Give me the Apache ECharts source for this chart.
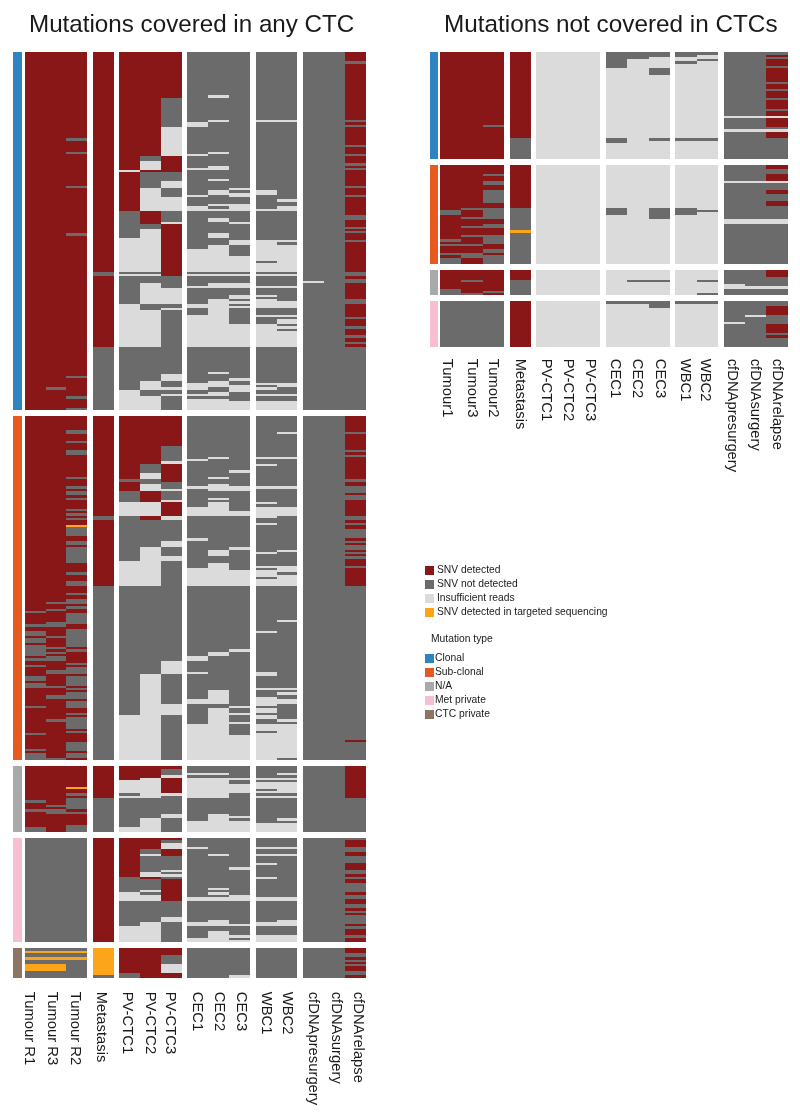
<!DOCTYPE html>
<html><head><meta charset="utf-8">
<style>html,body{margin:0;padding:0;background:#fff}#c{width:800px;height:1120px}</style>
<script src="https://cdn.jsdelivr.net/npm/echarts@6/dist/echarts.min.js"></script>
</head><body><div id="c"></div>
<script>
// Tick labels
const leftColumns = ['Tumour R1','Tumour R3','Tumour R2','Metastasis','PV-CTC1','PV-CTC2','PV-CTC3','CEC1','CEC2','CEC3','WBC1','WBC2','cfDNApresurgery','cfDNAsurgery','cfDNArelapse'];
const rightColumns = ['Tumour1','Tumour3','Tumour2','Metastasis','PV-CTC1','PV-CTC2','PV-CTC3','CEC1','CEC2','CEC3','WBC1','WBC2','cfDNApresurgery','cfDNAsurgery','cfDNArelapse'];
const stateNames = ['SNV detected','SNV not detected','Insufficient reads','SNV detected in targeted sequencing'];
const typeNames = ['Clonal','Sub-clonal','N/A','Met private','CTC private'];

// Each panel: one run-length string per column, top to bottom, in mutation rows.
// D detected, N not detected, I insufficient reads, T detected in targeted sequencing.
const leftClonal = [
'D158','D148 N1 D9','D38 N1 D5 N1 D14 N1 D20 N1 D62 N1 D8 N1 D4 N1',
'D97 N2 D31 N28',
'D52 I1 D17 N12 I15 N1 I1 N12 I19 N19 I9',
'D46 N2 I4 D1 N7 I10 D6 N2 I19 N1 I1 N3 I9 N3 I16 N15 I4 N3 I6',
'D20 N13 I13 D7 N4 I3 N4 I6 N5 I1 D23 N5 I7 N2 I1 N28 I3 N3 I1 N2 I1 N6',
'N31 I2 N12 I1 N5 I1 N11 I1 N4 I2 N17 I10 N1 I1 N4 I1 N7 I2 N3 I14 N16 I3 N2 I1 N1 I5',
'N19 I1 N10 I1 N13 I1 N5 I2 N4 I1 N4 I2 N4 I1 N1 I1 N3 I2 N5 I2 N3 I12 N1 I1 N3 I2 N5 I21 N11 I1 N3 I3 N2 I2 N1 I5',
'N60 I1 N1 I2 N3 I3 N5 I1 N7 I2 N5 I7 N1 I1 N3 I2 N3 I2 N1 I1 N1 I1 N7 I10 N14 I1 N2 I3 N4 I4',
'N30 I1 N30 I2 N6 I1 N13 I9 N1 I4 N1 I1 N4 I1 N3 I1 N1 I4 N3 I1 N3 I10 N16 I1 N1 I1 N2 I1 N2 I4',
'N30 I1 N34 I1 N2 I2 N13 I1 N1 I12 N1 I1 N4 I1 N6 I3 N3 I1 N1 I2 N1 I1 N1 I7 N16 I2 N3 I1 N2 I4',
'N101 I1 N56','N158',
'D4 N1 D25 N1 D1 N1 D8 N1 D3 N1 D3 N1 D1 N1 D7 N1 D3 N1 D8 N2 D3 N1 D1 N1 D3 N1 D13 N2 D1 N2 D7 N2 D6 N1 D3 N1 D3 N1 D2 N1 D1 N28'
];
const leftSubclonal = [
'D86 N1 D5 N1 D2 N2 D1 N2 D1 N5 D1 N1 D2 N1 D4 N2 D1 N2 D8 N1 D11 N1 D6 N1 D1 N3',
'D82 N1 D2 N1 D5 N2 D4 N1 D4 N1 D1 N1 D1 N2 D4 N2 D5 N1 D3 N2 D9 N1 D16 N1',
'D6 N2 D3 N1 D3 N2 D10 N1 D3 N1 D1 N2 D1 N1 D4 N1 D1 N1 D1 N1 D2 T1 N4 D2 N2 D1 N7 D4 N1 D3 N2 D3 N1 D2 N2 D1 N1 D2 N5 D2 N8 D1 N1 D5 N1 D1 N3 D1 N4 D1 N1 D1 N3 D1 N3 D2 N1 D1 N5 D1 N1 D4 N4 D1 N2 D1',
'D44 N2 D29 N77',
'D28 N1 D4 N5 I6 N20 I11 N57 I20',
'D21 N4 I3 N2 I3 D5 I6 D2 N12 I17 N39 I38',
'D13 N7 I1 D8 N3 I1 N4 I1 D6 I2 N9 I3 N4 I2 N44 I6 N13 I5 N20',
'N19 I1 N11 I1 N8 I4 N10 I1 N12 I8 N31 I2 N5 I1 N11 I2 N9 I16',
'N18 I1 N8 I1 N2 I3 N3 I1 N1 I6 N15 I3 N3 I10 N29 I2 N15 I6 N2 I23',
'N24 I1 N6 I2 N9 I2 N14 I1 N9 I7 N28 I1 N24 I1 N2 I1 N3 I1 N5 I11',
'N18 I1 N2 I1 N9 I1 N6 I1 N1 I5 N2 I1 N12 I1 N5 I1 N1 I3 N1 I3 N20 I1 N17 I2 N5 I1 N3 I4 N1 I2 N1 I2 N2 I3 N1 I12',
'N7 I1 N10 I1 N12 I1 N8 I4 N15 I1 N6 I3 N1 I5 N15 I1 N29 I1 N1 I1 N2 I2 N7 I1 N1 I15 N1',
'N152','N152',
'D7 N1 D7 N1 D1 N1 D10 N1 D2 N3 D1 N2 D7 N2 D1 N1 D2 N4 D1 N1 D1 N2 D1 N1 D1 N1 D3 N1 D8 N68 D1 N8'
];
const leftNA = [
'D15 N1 D3 N1 D7 N2','D17 N1 D1 N2 D8','D9 T1 D2 N1 D1 N5 D1 N1 D5 N3',
'D14 N15',
'D6 I6 N1 I1 N13 I2','D5 I9 N9 I6','D1 N3 I1 D7 I1 N8 I2 N6',
'N3 I1 N1 I9 N10 I5','N3 I1 N1 I9 N7 I8','N5 I1 N2 I4 N10 I1 N1 I5',
'N5 I1 N1 I3 N1 I1 N1 I1 N11 I4','N3 I1 N1 I1 N1 I5 N1 I1 N9 I1 N1 I4',
'N29','N29','D14 N15'
];
const leftMetPrivate = [
'N46','N46','N46','D46',
'D17 N7 I4 N11 I7','D5 N2 I1 N7 I2 D1 N5 I1 N1 I3 N9 I9','D1 N1 I3 D3 N6 I1 N1 I1 N1 D10 N7 I2 N9',
'N4 I1 N21 I2 N9 I2 N5 I2','N7 I1 N14 I1 N1 I1 N1 I2 N8 I3 N2 I5','N13 I1 N11 I3 N10 I1 N4 I1 N1 I1',
'N4 I1 N2 I1 N3 I1 N5 I1 N8 I2 N9 I2 N4 I3','N4 I1 N2 I1 N18 I2 N8 I3 N4 I3',
'N46','N46','N1 D3 N2 D2 N3 D3 N2 D1 N1 D2 N4 D1 N2 D2 N2 D1 N1 D1 N4 D1 N1 D3 N1 D2'
];
const leftCtcPrivate = [
'N1 T1 N2 T1 N2 T3 N3','N1 T1 N2 T1 N2 T3 N3','N1 T1 N2 T1 N8','T12 N1',
'D11 N2','D13','D3 N4 I4 D2','N13','N13','N12 I1','N13','N13','N13','N13',
'D2 N2 D1 N1 D1 N1 D2 N2 D1'
];
const rightClonal = [
'D47','D47','D32 N1 D14','D38 N9','I47','I47','I47',
'N7 I31 N2 I7','N3 I44','N2 I5 N3 I28 N1 I8',
'N2 I2 N1 I33 N1 I8','N1 I2 N1 I34 N1 I8',
'N28 I1 N5 I1 N12','N28 I1 N5 I1 N12',
'N1 D1 N1 D3 N1 D6 N1 D2 N1 D3 N1 D4 N1 D2 I1 D4 N1 I1 D3 N9'
];
const rightSubclonal = [
'D20 N2 D11 N1 D1 N1 D3 N1 D1 N3','D19 N1 D3 N1 D3 N1 D3 N1 D3 N1 D3 N2 D3',
'D4 N1 D2 N2 D2 N6 D2 N5 D2 N2 D3 N4 D2 N2 D1 N4',
'D19 N10 T1 N14','I44','I44','I44',
'I19 N3 I22','I44','I19 N5 I20','I19 N3 I22','I20 N1 I23',
'N7 I1 N16 I2 N18','N7 I1 N16 I2 N18','D2 N2 D3 I1 N3 D2 N3 D2 N6 I2 N18'
];
const rightNA = [
'D8 N3','D4 N1 D5 N1','D9 N1 D1','D4 N7','I11','I11','I11',
'I11','I4 N1 I6','I4 N1 I6','I11','I4 N1 I5 N1',
'N6 I2 N3','N7 I1 N3','D3 N4 I1 N3'
];
const rightMetPrivate = [
'N20','N20','N20','D20','I20','I20','I20',
'N1 I19','N1 I19','N3 I17','N1 I19','N1 I19',
'N9 I1 N10','N6 I1 N13','N2 D4 N4 D4 N1 D1 N4'
];

// Styling and layout, kept apart from the data
const stateColors = {D:'#8a1717',N:'#6b6b6b',I:'#dcdbdc',T:'#fca51b'};
const stateKeys = ['D','N','I','T'];
const typeColors = ['#2f83c0','#e65a20','#a9a9a9','#f7bfd0','#8c7565'];
const groupSizes = [3,1,3,3,2,3];
const ROW_GAP = 2.68;
const FONT = '"Liberation Sans", Arial, sans-serif';

function colStart(i, gap){
  let g = 0, n = 0;
  for (const s of groupSizes){ n += s; if (i < n) break; g++; }
  return i + g * gap;
}
function rowsOf(runs){ return runs.trim().split(/\s+/).reduce((a, r) => a + (+r.slice(1)), 0); }

const sides = [
  {panels:[leftClonal,leftSubclonal,leftNA,leftMetPrivate,leftCtcPrivate], types:[0,1,2,3,4], names:leftColumns,
   grid:{left:12.7,top:52.3,width:353,height:925.4}, gap:0.2632, xMin:-0.574, xMax:16.316, annot:[-0.574,-0.143], colPx:20.9,
   nudge:[-6,-4.3,-2,-2.3,-2.3,-1,-1,-1.3,0,1.7,-0.3,0.3,-0.2,1.5,3.3], margin:14},
  {panels:[rightClonal,rightSubclonal,rightNA,rightMetPrivate], types:[0,1,2,3], names:rightColumns,
   grid:{left:430.3,top:52.3,width:357.4,height:294.4}, gap:0.26, xMin:-0.455, xMax:16.3, annot:[-0.455,-0.094], colPx:21.33,
   nudge:[-4,-0.3,-0.6,0,-1,0,0.3,-1.7,-1,0.7,-1.4,-2,-2.7,-0.7,-0.3], margin:12}
];

const renderCell = color => (params, api) => {
  const a = api.coord([api.value(0), api.value(2)]);
  const b = api.coord([api.value(1), api.value(3)]);
  const x0 = Math.round(a[0]), y0 = Math.round(a[1]);
  return {type:'rect', shape:{x:x0, y:y0, width:Math.round(b[0])-x0, height:Math.round(b[1])-y0}, style:{fill:color}};
};

const grids = [], xAxes = [], yAxes = [], series = [];
sides.forEach((side, si) => {
  const cells = {D:[],N:[],I:[],T:[]};
  const bars = typeNames.map(() => []);
  let y = 0;
  side.panels.forEach((panel, pi) => {
    const h = rowsOf(panel[0]);
    panel.forEach((col, ci) => {
      const x0 = colStart(ci, side.gap);
      let r = y;
      col.trim().split(/\s+/).forEach(run => {
        const n = +run.slice(1);
        cells[run[0]].push([x0, x0 + 1, r, r + n]);
        r += n;
      });
    });
    bars[side.types[pi]].push([side.annot[0], side.annot[1], y, y + h]);
    y += h + ROW_GAP;
  });
  const yMax = y - ROW_GAP;
  const labelAt = side.names.map((_, i) => +(colStart(i, side.gap) + 0.5 + side.nudge[i] / side.colPx).toFixed(4));
  grids.push(side.grid);
  xAxes.push({
    type:'value', gridIndex:si, min:side.xMin, max:side.xMax, position:'bottom',
    axisLine:{show:false}, axisTick:{show:false}, splitLine:{show:false},
    axisLabel:{
      customValues:labelAt, rotate:-90, margin:side.margin, fontFamily:FONT, fontSize:14.8, color:'#1a1a1a',
      showMinLabel:true, showMaxLabel:true,
      formatter:v => { const i = labelAt.findIndex(p => Math.abs(p - v) < 1e-3); return i < 0 ? '' : side.names[i]; }
    }
  });
  yAxes.push({type:'value', gridIndex:si, min:0, max:yMax, inverse:true, axisLine:{show:false}, axisTick:{show:false}, axisLabel:{show:false}, splitLine:{show:false}});
  stateKeys.forEach((k, i) => series.push({
    type:'custom', name:stateNames[i], xAxisIndex:si, yAxisIndex:si, silent:true, clip:false,
    itemStyle:{color:stateColors[k]}, encode:{x:[0,1], y:[2,3]}, renderItem:renderCell(stateColors[k]), data:cells[k]
  }));
  typeNames.forEach((t, i) => series.push({
    type:'custom', name:t, xAxisIndex:si, yAxisIndex:si, silent:true, clip:false,
    itemStyle:{color:typeColors[i]}, encode:{x:[0,1], y:[2,3]}, renderItem:renderCell(typeColors[i]), data:bars[i]
  }));
});

const chart = echarts.init(document.getElementById('c'), null, {renderer:'canvas'});
chart.setOption({
  animation:false,
  backgroundColor:'#fff',
  title:[
    {text:'Mutations covered in any CTC', left:24, top:8, textStyle:{fontFamily:FONT, fontSize:24.2, fontWeight:'normal', color:'#1a1a1a'}},
    {text:'Mutations not covered in CTCs', left:439, top:8, textStyle:{fontFamily:FONT, fontSize:24.3, fontWeight:'normal', color:'#1a1a1a'}},
    {text:'Mutation type', left:426, top:629, textStyle:{fontFamily:FONT, fontSize:10.3, fontWeight:'normal', color:'#1a1a1a'}}
  ],
  grid:grids, xAxis:xAxes, yAxis:yAxes, series:series,
  legend:[
    {data:stateNames, orient:'vertical', left:425, top:565, itemWidth:9, itemHeight:9, itemGap:3, icon:'rect', selectedMode:false,
     padding:0, textStyle:{fontFamily:FONT, fontSize:10.3, color:'#1a1a1a', lineHeight:11, padding:[0,0,0,-2]}},
    {data:typeNames, orient:'vertical', left:425, top:653, itemWidth:9, itemHeight:9, itemGap:3, icon:'rect', selectedMode:false,
     padding:0, textStyle:{fontFamily:FONT, fontSize:10.3, color:'#1a1a1a', lineHeight:11, padding:[0,0,0,-4]}}
  ]
});
</script></body></html>
